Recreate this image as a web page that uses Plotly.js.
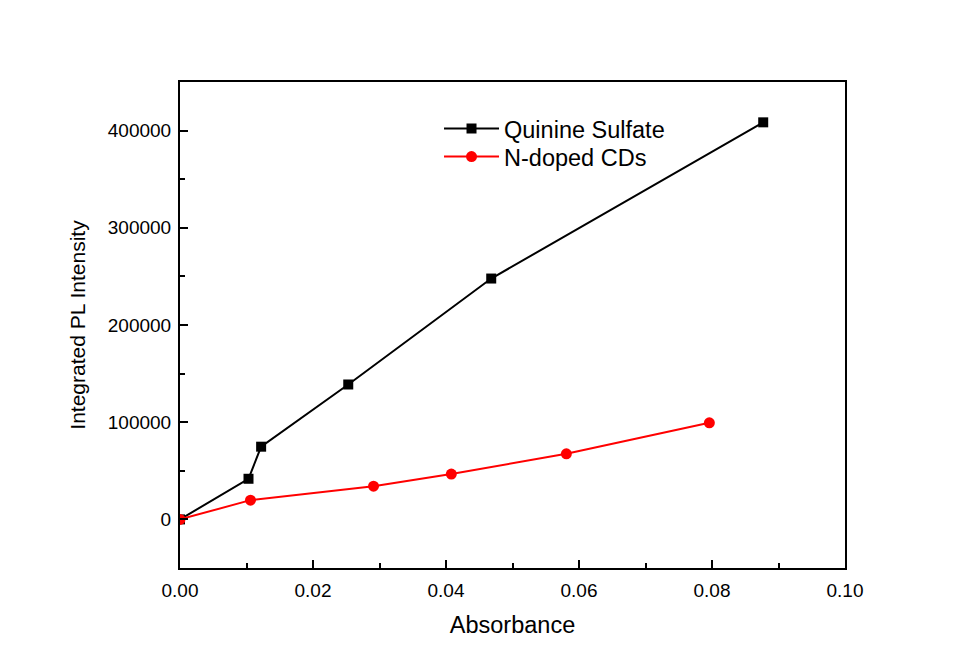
<!DOCTYPE html>
<html><head><meta charset="utf-8">
<script src="https://cdn.plot.ly/plotly-3.0.1.min.js"></script>
<style>html,body{margin:0;padding:0;background:#fff}#chart{width:960px;height:671px}</style>
</head><body><div id="chart"></div>
<script>
const qsX = [0, 0.0103, 0.0122, 0.0253, 0.0468, 0.0877];
const qsY = [0, 41800, 74800, 138800, 247800, 408500];
const cdX = [0, 0.0106, 0.0291, 0.0408, 0.0581, 0.0796];
const cdY = [0, 19800, 34200, 46600, 67500, 99400];
const seriesNames = ["Quinine Sulfate", "N-doped CDs"];

const font = "Arial, 'Liberation Sans', sans-serif";
const traces = [
  {x: qsX, y: qsY, name: seriesNames[0], mode: 'lines+markers', type: 'scatter', legend: 'legend',
   line: {color: '#000', width: 2}, marker: {symbol: 'square', size: 10, color: '#000'}},
  {x: cdX, y: cdY, name: seriesNames[1], mode: 'lines+markers', type: 'scatter', legend: 'legend2',
   line: {color: '#ff0000', width: 2}, marker: {symbol: 'circle', size: 11, color: '#ff0000'}}
];
const axisCommon = {
  showgrid: false, zeroline: false, showline: true, linecolor: '#000', linewidth: 2,
  mirror: true, ticks: 'inside', ticklen: 8, tickwidth: 2, tickcolor: '#000',
  tickfont: {family: font, size: 19, color: '#000'},
  minor: {ticks: 'inside', ticklen: 5, tickwidth: 2, tickcolor: '#000'}
};
const legendCommon = {xanchor: 'left', yanchor: 'top', bgcolor: 'rgba(0,0,0,0)',
  font: {family: font, size: 23.5, color: '#000'}, itemwidth: 55};
const layout = {
  width: 960, height: 671,
  paper_bgcolor: '#fff', plot_bgcolor: '#fff',
  margin: {l: 180, r: 115, t: 82, b: 103},
  showlegend: true,
  legend: Object.assign({x: 0.3895, y: 0.949}, legendCommon),
  legend2: Object.assign({x: 0.3895, y: 0.8914}, legendCommon),
  xaxis: Object.assign({}, axisCommon, {
    range: [0, 0.1], dtick: 0.02, tick0: 0, tickformat: '.2f', ticklabelstandoff: 4,
    minor: Object.assign({}, axisCommon.minor, {dtick: 0.01}),
    title: {text: 'Absorbance', font: {family: font, size: 23.5, color: '#000'}, standoff: 17}
  }),
  yaxis: Object.assign({}, axisCommon, {
    range: [-50000, 450000], dtick: 100000, tick0: 0, tickformat: 'd', ticklabelstandoff: 3,
    minor: Object.assign({}, axisCommon.minor, {dtick: 50000}),
    title: {text: 'Integrated PL Intensity', font: {family: font, size: 21, color: '#000'}, standoff: 16}
  })
};
Plotly.newPlot('chart', traces, layout, {displayModeBar: false, staticPlot: true});
</script></body></html>
